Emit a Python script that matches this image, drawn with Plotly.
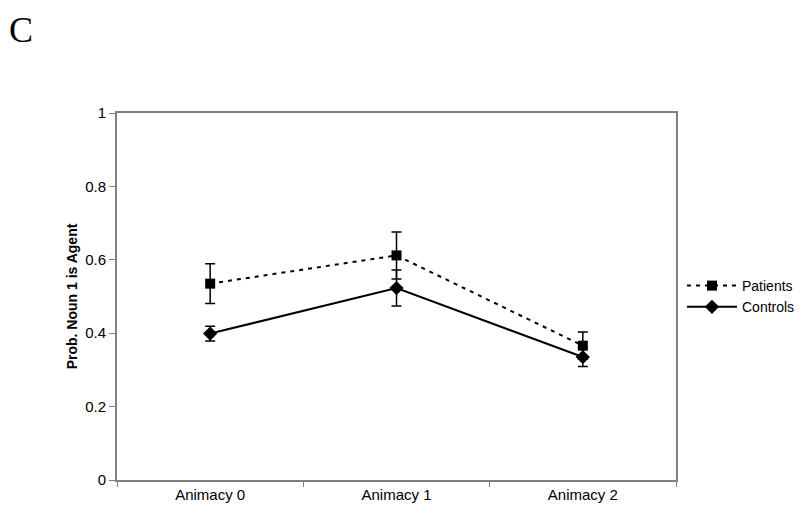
import plotly.graph_objects as go

categories = ["Animacy 0", "Animacy 1", "Animacy 2"]

patients = [0.535, 0.612, 0.366]
patients_err = [0.054, 0.064, 0.037]

controls = [0.399, 0.523, 0.335]
controls_err = [0.020, 0.049, 0.026]

y_ticks = [0, 0.2, 0.4, 0.6, 0.8, 1]

AXIS_GREY = "#808080"
FONT = "Liberation Sans, Arial, sans-serif"

fig = go.Figure()

fig.add_trace(
    go.Scatter(
        x=categories,
        y=patients,
        name="Patients",
        mode="lines+markers",
        line=dict(color="black", width=2, dash="4px,5px"),
        marker=dict(symbol="square", size=10, color="black"),
        error_y=dict(type="data", array=patients_err, color="black", thickness=1.5, width=5),
    )
)

fig.add_trace(
    go.Scatter(
        x=categories,
        y=controls,
        name="Controls",
        mode="lines+markers",
        line=dict(color="black", width=2),
        marker=dict(symbol="diamond", size=11, color="black"),
        error_y=dict(type="data", array=controls_err, color="black", thickness=1.5, width=5),
    )
)

# panel letter
fig.add_annotation(
    text="C",
    xref="paper", yref="paper",
    x=-0.197, y=1.286,
    xanchor="left", yanchor="top",
    showarrow=False,
    font=dict(family="Liberation Serif, Times New Roman, serif", size=36, color="black"),
)

fig.update_xaxes(
    type="category",
    range=[-0.5, 2.5],
    showline=True, linecolor=AXIS_GREY, linewidth=2, mirror=True,
    showgrid=False, zeroline=False,
    ticks="outside", ticklen=5, tickcolor=AXIS_GREY, tickwidth=1,
    tickson="boundaries",
    tickfont=dict(family=FONT, size=15, color="black"),
)

fig.update_yaxes(
    range=[0, 1],
    tickvals=y_ticks,
    ticktext=[f"{v:g}" for v in y_ticks],
    showline=True, linecolor=AXIS_GREY, linewidth=2, mirror=True,
    showgrid=False, zeroline=False,
    ticks="outside", ticklen=6, tickcolor=AXIS_GREY, tickwidth=1,
    tickfont=dict(family=FONT, size=15, color="black"),
    title=dict(
        text="<b>Prob. Noun 1 is Agent</b>",
        font=dict(family=FONT, size=14, color="black"),
        standoff=4,
    ),
)

fig.update_layout(
    width=805,
    height=514,
    margin=dict(l=109, r=137, t=105, b=42),
    paper_bgcolor="white",
    plot_bgcolor="white",
    showlegend=True,
    legend=dict(
        x=1.0107, y=0.5,
        xanchor="left", yanchor="middle",
        font=dict(family=FONT, size=14, color="black"),
        bgcolor="rgba(0,0,0,0)",
        tracegroupgap=0,
        itemwidth=50,
    ),
)

fig.write_html("out.html")
